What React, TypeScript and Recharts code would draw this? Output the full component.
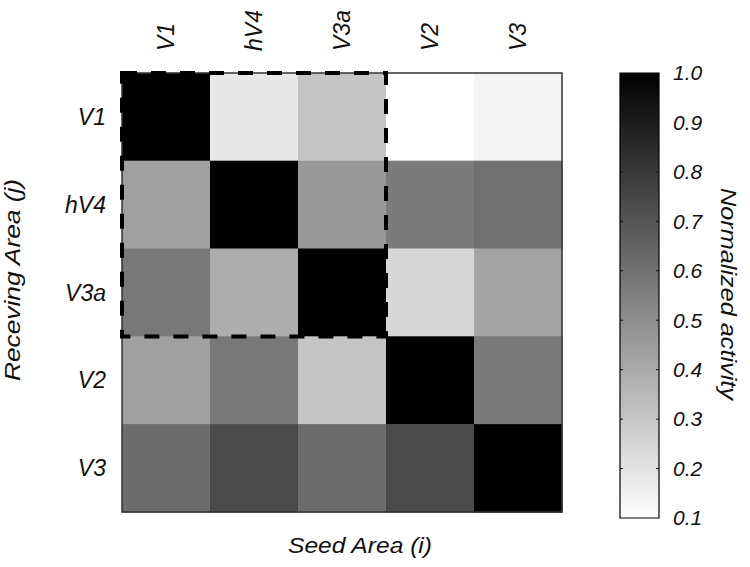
import React from 'react';
import {
  ScatterChart, Scatter, XAxis, YAxis, ReferenceArea,
  BarChart, Bar,
} from 'recharts';

// ---- data ----
const seedAreas = ['V1', 'hV4', 'V3a', 'V2', 'V3'];
const receivingAreas = ['V1', 'hV4', 'V3a', 'V2', 'V3'];
// rows = receiving area j, columns = seed area i
const rowV1 = [1.0, 0.18, 0.31, 0.10, 0.14];
const rowHV4 = [0.435, 1.0, 0.465, 0.565, 0.6];
const rowV3a = [0.575, 0.39, 1.0, 0.24, 0.425];
const rowV2 = [0.435, 0.575, 0.31, 1.0, 0.57];
const rowV3 = [0.62, 0.735, 0.62, 0.735, 1.0];
const colorbarTicks = [0.1, 0.2, 0.3, 0.4, 0.5, 0.6, 0.7, 0.8, 0.9, 1.0];
const highlightedAreas = ['V1', 'hV4', 'V3a'];

const matrix = [rowV1, rowHV4, rowV3a, rowV2, rowV3];
const cells = matrix.flatMap((row, j) =>
  row.map((v, i) => ({ x: i + 0.5, y: j + 0.5, v }))
);
const centers = seedAreas.map((_, i) => i + 0.5);
const VMIN = colorbarTicks[0];
const VMAX = colorbarTicks[colorbarTicks.length - 1];

// ---- layout ----
const W = 750;
const H = 567;
const YAXIS_W = 122;
const XAXIS_H = 73;
const MARGIN = { top: 0, right: 188, bottom: 55, left: 0 };
const PLOT_W = W - MARGIN.left - MARGIN.right - YAXIS_W;
const CELL = PLOT_W / seedAreas.length;
const FONT = '"Liberation Sans", Arial, Helvetica, sans-serif';

const gray = (v: number) => {
  const t = Math.min(1, Math.max(0, (v - VMIN) / (VMAX - VMIN)));
  const g = Math.round(255 * (1 - t));
  return `rgb(${g},${g},${g})`;
};

const CellShape = (props: any) => {
  const { cx, cy, payload } = props;
  return (
    <rect
      x={cx - CELL / 2}
      y={cy - CELL / 2}
      width={CELL + 0.5}
      height={CELL + 0.5}
      fill={gray(payload.v)}
      stroke="none"
    />
  );
};

const TopTick = (props: any) => {
  const { x, y, payload } = props;
  return (
    <text
      x={x}
      y={y}
      transform={`rotate(-90 ${x} ${y})`}
      textAnchor="start"
      dy="0.35em"
      fontFamily={FONT}
      fontStyle="italic"
      fontSize={23}
      fill="#111"
    >
      {seedAreas[Math.floor(payload.value)]}
    </text>
  );
};

const LeftTick = (props: any) => {
  const { x, y, payload } = props;
  return (
    <text
      x={x}
      y={y}
      textAnchor="end"
      dy="0.35em"
      fontFamily={FONT}
      fontStyle="italic"
      fontSize={23}
      fill="#111"
    >
      {receivingAreas[Math.floor(payload.value)]}
    </text>
  );
};

const CB_W = 39;
const CbTick = (props: any) => {
  const { x, y, payload } = props;
  const v = payload.value;
  const edge = x - 14;
  const inner = v > VMIN + 1e-9 && v < VMAX - 1e-9;
  return (
    <g>
      {inner && <line x1={edge} x2={edge - 3} y1={y} y2={y} stroke="#111" strokeWidth={1} />}
      {inner && <line x1={edge - CB_W} x2={edge - CB_W + 3} y1={y} y2={y} stroke="#111" strokeWidth={1} />}
      <text
        x={x}
        y={y}
        textAnchor="start"
        dy="0.35em"
        fontFamily={FONT}
        fontStyle="italic"
        fontSize={21}
        fill="#111"
      >
        {v.toFixed(1)}
      </text>
    </g>
  );
};

const colorbarData = [{ k: 'cb', r: [VMIN, VMAX] }];

export default function App() {
  return (
    <div style={{ position: 'absolute', left: 0, top: 0, width: W, height: H, background: '#fff' }}>
      <div style={{ position: 'absolute', left: 0, top: 0 }}>
        <ScatterChart width={W} height={H} margin={MARGIN}>
          <XAxis
            type="number"
            dataKey="x"
            orientation="top"
            domain={[0, seedAreas.length]}
            ticks={centers}
            interval={0}
            height={XAXIS_H}
            axisLine={false}
            tickLine={false}
            tickSize={0}
            tickMargin={22}
            tick={<TopTick />}
            label={() => (
              <text
                x={360}
                y={553}
                textAnchor="middle"
                fontFamily={FONT}
                fontStyle="italic"
                fontSize={22}
                textLength={144}
                lengthAdjust="spacingAndGlyphs"
                fill="#111"
              >
                Seed Area (i)
              </text>
            )}
          />
          <YAxis
            type="number"
            dataKey="y"
            reversed
            domain={[0, receivingAreas.length]}
            ticks={centers}
            interval={0}
            width={YAXIS_W}
            axisLine={false}
            tickLine={false}
            tickSize={0}
            tickMargin={16}
            tick={<LeftTick />}
            label={() => (
              <text
                x={20}
                y={280}
                transform="rotate(-90 20 280)"
                textAnchor="middle"
                fontFamily={FONT}
                fontStyle="italic"
                fontSize={22}
                textLength={202}
                lengthAdjust="spacingAndGlyphs"
                fill="#111"
              >
                Receving Area (j)
              </text>
            )}
          />
          <Scatter data={cells} shape={<CellShape />} isAnimationActive={false} />
          <ReferenceArea
            x1={0}
            x2={seedAreas.length}
            y1={0}
            y2={receivingAreas.length}
            fill="none"
            fillOpacity={0}
            stroke="#333"
            strokeWidth={1.5}
            zIndex={900}
          />
          <ReferenceArea
            x1={0}
            x2={highlightedAreas.length}
            y1={0}
            y2={highlightedAreas.length}
            fill="none"
            fillOpacity={0}
            stroke="#000"
            strokeWidth={4}
            strokeDasharray="15 14"
            zIndex={1000}
          />
        </ScatterChart>
      </div>
      <div style={{ position: 'absolute', left: 600, top: 0 }}>
        <BarChart
          width={150}
          height={H}
          data={colorbarData}
          margin={{ top: 73, right: 0, bottom: 49, left: 20 }}
          barCategoryGap={0}
        >
          <defs>
            <linearGradient id="cbGrad" x1="0" y1="0" x2="0" y2="1">
              <stop offset="0%" stopColor="#000" />
              <stop offset="100%" stopColor="#fff" />
            </linearGradient>
          </defs>
          <XAxis dataKey="k" hide />
          <YAxis
            type="number"
            orientation="right"
            domain={[VMIN, VMAX]}
            ticks={colorbarTicks}
            interval={0}
            width={91}
            axisLine={false}
            tickLine={false}
            tickSize={0}
            tickMargin={14}
            tick={<CbTick />}
            label={() => (
              <text
                x={121}
                y={294}
                transform="rotate(90 121 294)"
                textAnchor="middle"
                fontFamily={FONT}
                fontStyle="italic"
                fontSize={22}
                textLength={212}
                lengthAdjust="spacingAndGlyphs"
                fill="#111"
              >
                Normalized activity
              </text>
            )}
          />
          <Bar dataKey="r" fill="url(#cbGrad)" stroke="#000" strokeWidth={1.2} isAnimationActive={false} />
        </BarChart>
      </div>
    </div>
  );
}
